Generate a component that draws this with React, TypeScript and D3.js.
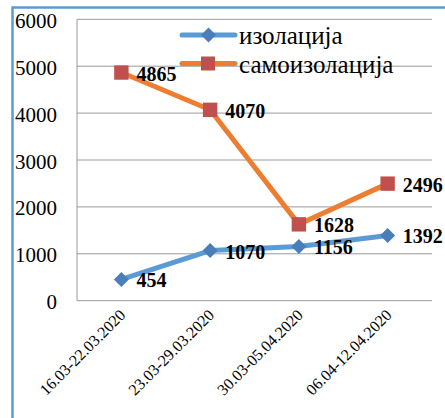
import React from "react";
import * as d3 from "d3";

const categories = ["16.03-22.03.2020", "23.03-29.03.2020", "30.03-05.04.2020", "06.04-12.04.2020"];
const isolation = [454, 1070, 1156, 1392];
const selfIsolation = [4865, 4070, 1628, 2496];
const seriesNames = ["изолација", "самоизолација"];
const yTicks = [0, 1000, 2000, 3000, 4000, 5000, 6000];

const W = 445;
const H = 418;
const plot = { left: 77, right: 432, top: 19.3, bottom: 300.7 };
const font = "'Liberation Serif', 'Times New Roman', serif";

const lineBlue = "#5b9bd5";
const markBlue = "#4a7ebb";
const lineOrange = "#ed7d31";
const markRed = "#c0504d";

const diamond = (cx: number, cy: number, r: number) =>
  `M${cx},${cy - r}L${cx + r},${cy}L${cx},${cy + r}L${cx - r},${cy}Z`;

const App = () => {
  const x = d3.scalePoint<string>().domain(categories).range([plot.left, plot.right]).padding(0.5);
  const y = d3.scaleLinear().domain([0, 6000]).range([plot.bottom, plot.top]);

  const line = d3.line<number>()
    .x((_, i) => x(categories[i]) as number)
    .y(d => y(d));

  return (
    <svg width={W} height={H} style={{ position: "absolute", left: 0, top: 0, background: "#fff" }}>
      {/* frame */}
      <path d={`M12.5,${H}V7.5H${W}`} fill="none" stroke="#5b9bd5" strokeWidth={2.5} />

      {/* grid */}
      {yTicks.map(t => (
        <g key={t}>
          <line x1={plot.left} x2={plot.right} y1={y(t)} y2={y(t)} stroke="#9a9a9a" strokeWidth={1} />
          <text x={57} y={y(t) + 8.5} textAnchor="end" fontFamily={font} fontSize={21} fill="#000">{t}</text>
        </g>
      ))}
      <line x1={plot.left} x2={plot.left} y1={plot.top} y2={plot.bottom} stroke="#9a9a9a" strokeWidth={1} />

      {/* x labels */}
      {categories.map(c => (
        <text key={c} transform={`translate(${(x(c) as number) + 5},316) rotate(-45)`} textAnchor="end"
          fontFamily={font} fontSize={16} fill="#000">{c}</text>
      ))}

      {/* legend */}
      <line x1={182} x2={235} y1={35} y2={35} stroke={lineBlue} strokeWidth={5} strokeLinecap="round" />
      <path d={diamond(208.5, 35, 7.5)} fill={markBlue} />
      <text x={239} y={44} fontFamily={font} fontSize={25} fill="#000">{seriesNames[0]}</text>
      <line x1={182} x2={235} y1={63.5} y2={63.5} stroke={lineOrange} strokeWidth={5} strokeLinecap="round" />
      <rect x={201} y={56.5} width={14} height={14} fill={markRed} />
      <text x={239} y={73.3} fontFamily={font} fontSize={25} fill="#000">{seriesNames[1]}</text>

      {/* lines */}
      <path d={line(selfIsolation) || ""} fill="none" stroke={lineOrange} strokeWidth={5} strokeLinejoin="round" />
      <path d={line(isolation) || ""} fill="none" stroke={lineBlue} strokeWidth={5} strokeLinejoin="round" />

      {selfIsolation.map((v, i) => {
        const cx = x(categories[i]) as number;
        return (
          <g key={"s" + i}>
            <rect x={cx - 7.2} y={y(v) - 7.2} width={14.4} height={14.4} fill={markRed} />
            <text x={cx + 15} y={y(v) + 8} fontFamily={font} fontSize={20} fontWeight="bold" fill="#000">{v}</text>
          </g>
        );
      })}
      {isolation.map((v, i) => {
        const cx = x(categories[i]) as number;
        return (
          <g key={"i" + i}>
            <path d={diamond(cx, y(v), 7.5)} fill={markBlue} />
            <text x={cx + 15} y={y(v) + 8} fontFamily={font} fontSize={20} fontWeight="bold" fill="#000">{v}</text>
          </g>
        );
      })}
    </svg>
  );
};

export default App;
